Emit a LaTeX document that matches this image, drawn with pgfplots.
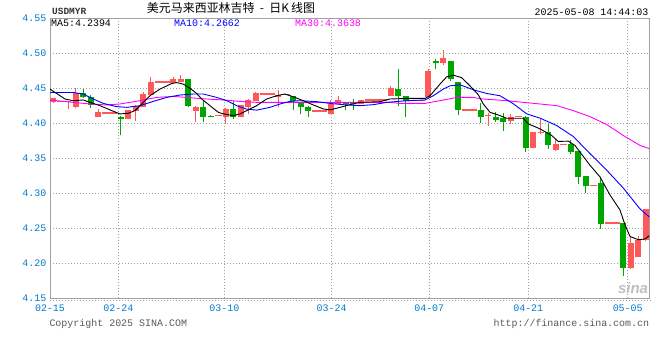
\documentclass[border=0pt]{standalone}
\usepackage{fontspec}
\setmainfont{Liberation Sans}
\setmonofont{Liberation Mono}
\newfontfamily\cjk{Noto Sans CJK SC}
\usepackage{pgfplots}
\usepackage{pgfplotstable}
\pgfplotsset{compat=1.18}
\definecolor{redc}{RGB}{255,88,88}
\definecolor{grnc}{RGB}{0,166,0}
\definecolor{tickblue}{RGB}{0,122,204}
\definecolor{ma10}{RGB}{0,0,255}
\definecolor{ma30}{RGB}{255,0,255}
\definecolor{framec}{RGB}{160,160,160}

% rising candles: bot=open, top=close
\pgfplotstableread{
i bot top lo hi
0 4.4299 4.4355 4.4290 4.4360
2 4.4303 4.4315 4.4202 4.4323
3 4.4228 4.4426 4.4225 4.4503
6 4.4086 4.4157 4.4083 4.4205
10 4.4057 4.4191 4.4055 4.4195
11 4.4181 4.4252 4.4039 4.4255
12 4.4238 4.4418 4.4235 4.4440
13 4.4398 4.4592 4.4395 4.4667
16 4.4578 4.4630 4.4575 4.4663
17 4.4592 4.4630 4.4590 4.4692
19 4.4181 4.4238 4.4015 4.4240
23 4.4096 4.4205 4.3992 4.4214
25 4.4086 4.4262 4.4083 4.4265
26 4.4238 4.4337 4.4134 4.4340
27 4.4323 4.4426 4.4320 4.4450
30 4.4370 4.4408 4.4228 4.4479
37 4.4134 4.4276 4.4130 4.4333
38 4.4276 4.4333 4.4273 4.4394
41 4.4276 4.4333 4.4273 4.4336
45 4.4394 4.4511 4.4390 4.4535
50 4.4370 4.4748 4.4365 4.4772
52 4.4866 4.4937 4.4829 4.5046
58 4.4103 4.4115 4.3958 4.4143
61 4.4029 4.4096 4.3992 4.4134
64 4.3646 4.3873 4.3643 4.3876
65 4.3859 4.3871 4.3840 4.4067
67 4.3614 4.3699 4.3610 4.3779
77 4.1926 4.2294 4.1922 4.2384
78 4.2086 4.2337 4.2083 4.2394
79 4.2327 4.2777 4.2324 4.2780
}\redtab

% falling candles: bot=close, top=open
\pgfplotstableread{
i bot top lo hi
4 4.4370 4.4436 4.4368 4.4493
5 4.4262 4.4379 4.4214 4.4408
9 4.4057 4.4096 4.3826 4.4100
18 4.4252 4.4630 4.4228 4.4635
20 4.4096 4.4238 4.4025 4.4333
21 4.4086 4.4110 4.4084 4.4112
24 4.4086 4.4205 4.4063 4.4323
32 4.4313 4.4394 4.4195 4.4396
33 4.4228 4.4290 4.4134 4.4292
34 4.4171 4.4238 4.4096 4.4240
39 4.4276 4.4309 4.4191 4.4311
40 4.4276 4.4309 4.4195 4.4347
46 4.4384 4.4489 4.4252 4.4772
47 4.4323 4.4394 4.4086 4.4396
51 4.4866 4.4890 4.4772 4.4914
53 4.4639 4.4890 4.4606 4.4892
54 4.4191 4.4592 4.4114 4.4595
57 4.4086 4.4195 4.4001 4.4284
59 4.4053 4.4096 4.4015 4.4167
60 4.4025 4.4072 4.3887 4.4148
63 4.3646 4.4096 4.3589 4.4100
66 4.3684 4.3873 4.3628 4.3996
69 4.3585 4.3709 4.3557 4.3755
70 4.3231 4.3599 4.3127 4.3602
71 4.3107 4.3245 4.2999 4.3248
73 4.2564 4.3141 4.2493 4.3226
76 4.1926 4.2574 4.1816 4.2577
}\grntab

% flat (no movement) entries
\pgfplotstableread{
i v
1 4.4313
7 4.4148
8 4.4148
14 4.4588
15 4.4588
22 4.4110
28 4.4418
29 4.4418
31 4.4408
35 4.4177
36 4.4177
42 4.4333
43 4.4333
44 4.4333
48 4.4323
49 4.4323
55 4.4191
56 4.4191
62 4.4096
68 4.3699
72 4.3113
74 4.2574
75 4.2574
}\flattab

\pgfplotsset{candle/.style={draw=none, mark=none, forget plot}}

\begin{document}
\begin{tikzpicture}
\useasboundingbox (0bp,0bp) rectangle (660bp,360bp);
\begin{axis}[
  at={(50bp,61.7bp)}, anchor=south west,
  scale only axis, width=599.3bp, height=280bp,
  xmin=-0.44, xmax=79.47, ymin=4.15, ymax=4.55,
  axis line style={framec, line width=1bp},
  grid=major,
  major grid style={draw=gray!75, line width=0.8bp, dash pattern=on 1bp off 2bp},
  xtick={-0.44,8.67,22.8,37.12,50.13,63.33,76.59},
  xticklabels={02-15,02-24,03-10,03-24,04-07,04-21,05-05},
  ytick={4.15,4.2,4.25,4.3,4.35,4.4,4.45,4.5,4.55},
  major tick length=0pt,
  tick label style={font=\ttfamily\fontsize{10}{12}\selectfont, text=tickblue},
  yticklabel style={/pgf/number format/fixed, /pgf/number format/fixed zerofill,
     /pgf/number format/precision=2, /pgf/number format/assume math mode=true,
     anchor=east, xshift=-3.5bp, inner sep=0pt},
  xticklabel style={anchor=north, yshift=-6bp, inner sep=0pt},
]
% wicks
\addplot[candle,
  error bars/.cd, y dir=plus, y explicit, error mark=none,
  error bar style={draw=redc, line width=1bp}]
  table[x=i, y=lo, y error expr=\thisrow{hi}-\thisrow{lo}] {\redtab};
\addplot[candle,
  error bars/.cd, y dir=plus, y explicit, error mark=none,
  error bar style={draw=grnc, line width=1bp}]
  table[x=i, y=lo, y error expr=\thisrow{hi}-\thisrow{lo}] {\grntab};
% bodies
\addplot[candle,
  error bars/.cd, y dir=plus, y explicit, error mark=none,
  error bar style={draw=redc, line width=6bp}]
  table[x=i, y=bot, y error expr=\thisrow{top}-\thisrow{bot}] {\redtab};
\addplot[candle,
  error bars/.cd, y dir=plus, y explicit, error mark=none,
  error bar style={draw=grnc, line width=6bp}]
  table[x=i, y=bot, y error expr=\thisrow{top}-\thisrow{bot}] {\grntab};
% flat entries
\addplot[candle,
  error bars/.cd, x dir=both, x fixed=0.5, error mark=none,
  error bar style={draw=redc, line width=1.5bp, dash pattern=on 4bp off 2bp}]
  table[x=i, y=v] {\flattab};
% MA30
\addplot[ma30, line width=0.9bp] coordinates {
(-0.44,4.4333) (2.67,4.4299) (4.89,4.4276) (7.12,4.4262) (8.89,4.4276) (11.56,4.4323)
(13.79,4.4370) (16,4.4384) (18.23,4.4365) (20.45,4.4347) (22.67,4.4333) (24.89,4.4313)
(27.12,4.4299) (44.89,4.4299) (46.23,4.4284) (49.56,4.4284) (51.56,4.4323) (53.79,4.4370)
(56,4.4370) (56.89,4.4351) (60.45,4.4323) (64.89,4.4276) (67.12,4.4252) (69.33,4.4181)
(71.56,4.4096) (73.79,4.3982) (76,4.3826) (78.23,4.3684) (79.47,4.3638)};
% MA10
\addplot[ma10, line width=0.9bp] coordinates {
(-0.44,4.4440) (2.67,4.4440) (4,4.4418) (5.33,4.4347) (6.67,4.4284) (8.45,4.4238)
(9.79,4.4228) (11.56,4.4252) (13.33,4.4313) (15.12,4.4370) (16.89,4.4404) (18.67,4.4418)
(20,4.4418) (21.79,4.4370) (23.12,4.4323) (24.45,4.4252) (25.79,4.4202) (27.12,4.4188)
(28.89,4.4228) (30.23,4.4276) (31.56,4.4313) (32.89,4.4323) (35.12,4.4309) (36.89,4.4284)
(38.67,4.4266) (40.89,4.4252) (42.67,4.4266) (44.45,4.4299) (47.12,4.4323) (49.56,4.4333)
(50.67,4.4394) (52,4.4489) (52.89,4.4535) (54.23,4.4550) (56,4.4479) (57.79,4.4426)
(59.56,4.4394) (61.33,4.4280) (63.12,4.4135) (64.89,4.4074) (67.12,4.3968) (69.33,4.3812)
(71.56,4.3567) (73.79,4.3330) (76,4.3075) (78.23,4.2777) (79.47,4.2662)};
% MA5
\addplot[black, line width=0.9bp] coordinates {
(-0.44,4.4489) (1.56,4.4347) (2.67,4.4323) (4,4.4333) (4.89,4.4299) (6.23,4.4252)
(7.56,4.4191) (8.89,4.4134) (10,4.4143) (10.89,4.4181) (11.79,4.4276) (12.89,4.4394)
(14.23,4.4489) (15.79,4.4568) (16.45,4.4582) (17.33,4.4560) (18.23,4.4500) (19.12,4.4426)
(19.79,4.4347) (20.89,4.4252) (22,4.4157) (22.67,4.4134) (24,4.4110) (24.89,4.4134)
(25.79,4.4181) (27.12,4.4252) (28.45,4.4347) (29.79,4.4394) (30.89,4.4418) (32,4.4379)
(33.33,4.4323) (34.67,4.4262) (36,4.4205) (36.89,4.4191) (38.23,4.4228) (39.56,4.4266)
(40.89,4.4299) (43.56,4.4309) (44.89,4.4347) (47.12,4.4355) (49.56,4.4355) (50.23,4.4394)
(51.56,4.4560) (52.45,4.4663) (53.33,4.4687) (54.45,4.4653) (55.56,4.4535) (56.67,4.4408)
(57.33,4.4276) (58.23,4.4157) (59.56,4.4110) (60.45,4.4072) (62.67,4.4072) (63.33,4.3992)
(64.89,4.3921) (66.45,4.3826) (67.33,4.3741) (68.67,4.3745) (69.56,4.3684) (70.23,4.3589)
(71.56,4.3401) (72.89,4.3235) (74.23,4.2975) (75.56,4.2762) (76.23,4.2550) (76.89,4.2384)
(78,4.2337) (78.89,4.2347) (79.47,4.2394)};
\end{axis}
% decorations and texts
\draw[gray!75, line width=0.8bp, dash pattern=on 1bp off 2bp] (50bp,59.5bp) -- (652bp,59.5bp);
\node[anchor=base, inner sep=0pt, font=\cjk\fontsize{12}{14}\selectfont] at (231bp,347.3bp) {美元马来西亚林吉特\ \ -\ \ 日K\,线图};
\node[anchor=base west, inner sep=0pt, text=black!80, font=\ttfamily\bfseries\fontsize{9.5}{11}\selectfont] at (52bp,345bp) {USDMYR};
\node[anchor=base east, inner sep=0pt, font=\ttfamily\fontsize{10}{12}\selectfont] at (648.5bp,344.5bp) {2025-05-08 14:44:03};
\node[anchor=base west, inner sep=0pt, font=\ttfamily\fontsize{10}{12}\selectfont] at (51bp,333.3bp) {MA5:4.2394};
\node[anchor=base west, inner sep=0pt, text=ma10, font=\ttfamily\fontsize{10}{12}\selectfont] at (174bp,333.3bp) {MA10:4.2662};
\node[anchor=base west, inner sep=0pt, text=ma30, font=\ttfamily\fontsize{10}{12}\selectfont] at (295bp,333.3bp) {MA30:4.3638};
\node[anchor=base west, inner sep=0pt, text=black!65, font=\ttfamily\fontsize{10}{12}\selectfont] at (49.3bp,34bp) {Copyright 2025 SINA.COM};
\node[anchor=base east, inner sep=0pt, text=black!65, font=\ttfamily\fontsize{10}{12}\selectfont] at (649.3bp,34bp) {http://finance.sina.com.cn};
\node[anchor=center, inner sep=0pt, text=black!25, font=\bfseries\itshape\fontsize{15}{16}\selectfont] at (633bp,72bp) {sina};
\end{tikzpicture}
\end{document}
